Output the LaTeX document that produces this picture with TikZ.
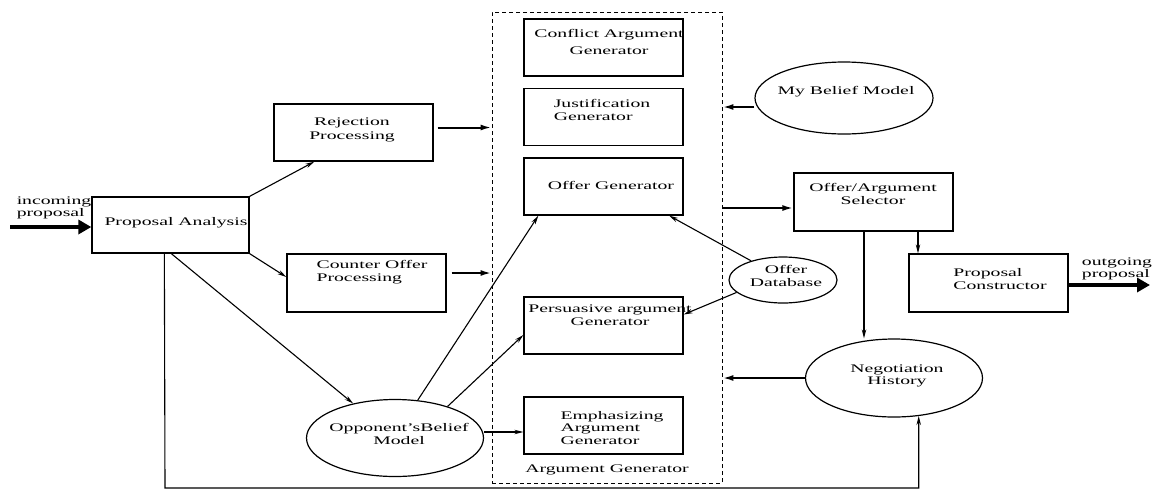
\documentclass[tikz,border=0pt]{standalone}
\usepackage{fontspec}
\setmainfont{Liberation Serif}[FakeStretch=1.7]
\usetikzlibrary{arrows.meta,shapes.geometric}
\tikzset{
    box/.style={
        draw,
        line width=1.3pt,
        minimum width=159pt,
        minimum height=57pt,
        inner sep=0pt
    },
    belief/.style={ellipse, draw, line width=1.2pt, inner sep=0pt},
    txt/.style={inner sep=0pt, font=\fontsize{11.6}{12.5}\selectfont},
    flow/.style={line width=1.1pt, -{Stealth[length=9pt,width=4.5pt]}},
    feed/.style={line width=2pt, -{Latex[length=11pt,width=6pt]}},
    io/.style={line width=4pt, -{Triangle[length=13pt,width=14pt]}}
}
\begin{document}
\begin{tikzpicture}[x={(1pt,0)}, y={(0,-1pt)}]
        \useasboundingbox (0,0) rectangle (1156,491);
        % argument generator frame
        \node[draw, dashed, dash pattern=on 4pt off 3pt, line width=0.9pt,
            minimum width=230pt, minimum height=471pt] (ag) at (607,247.5) {};
        \node[txt] (ag-t) at (607,470) {Argument Generator};
        % generators inside the frame
        \foreach \n/\y in {cag/47.5, jus/117, ofg/186.5, per/325.5, emp/425.5}
            \node[box] (\n) at (603.5,\y) {};
        \node[txt, align=center] (cag-t) at (609,42) {Conflict Argument\\[5pt]Generator};
        \node[txt, align=left] (jus-t) at (602,110) {Justification\\Generator};
        \node[txt] (ofg-t) at (611,185) {Offer Generator};
        \node[txt, align=center] (per-t) at (610,315) {Persuasive argument\\Generator};
        \node[txt, align=left] (emp-t) at (612,428) {Emphasizing\\Argument\\Generator};
        % boxes outside
        \node[box, minimum width=157pt, minimum height=56pt] (pa) at (170.5,225) {};
        \node[txt] (pa-t) at (176,223) {Proposal Analysis};
        \node[box] (rej) at (353.5,132.5) {};
        \node[txt, align=center] (rej-t) at (352,130) {Rejection\\[2pt]Processing};
        \node[box, minimum height=58pt] (cop) at (366.5,283) {};
        \node[txt, align=left] (cop-t) at (372,272) {Counter Offer\\Processing};
        \node[box, minimum height=58pt] (oas) at (873.5,202) {};
        \node[txt, align=center] (oas-t) at (873,194) {Offer/Argument\\Selector};
        \node[box, minimum height=58pt] (pc) at (988.5,283) {};
        \node[txt, align=left] (pc-t) at (1000,279) {Proposal\\Constructor};
        % belief models and stores
        \node[belief, minimum width=178pt, minimum height=72pt] (mbm) at (844,98) {};
        \node[txt] (mbm-t) at (846,92) {My Belief Model};
        \node[belief, minimum width=108pt, minimum height=46pt] (odb) at (783,280) {};
        \node[txt, align=center] (odb-t) at (786,276) {Offer\\Database};
        \node[belief, minimum width=177pt, minimum height=78pt] (nh) at (894,378) {};
        \node[txt, align=center] (nh-t) at (897,376) {Negotiation\\History};
        \node[belief, minimum width=177pt, minimum height=77pt] (obm) at (395,438) {};
        \node[txt, align=center] (obm-t) at (399,434) {Opponent'sBelief\\Model};
        % incoming and outgoing proposal
        \coordinate (inc) at (10,227);
        \coordinate (out) at (1150,285);
        \node[txt, align=left] (in-t) at (54,208) {incoming\\proposal};
        \node[txt, align=left] (out-t) at (1117,269) {outgoing\\proposal};
        \draw[io] (inc) -- (inc -| pa.west);
        \draw[io] (pc.east |- out) -- (out);
        % draw flows out of the proposal analysis
        \draw[flow] (pa.north east) -- ([xshift=41pt]rej.south west);
        \draw[flow] (pa.south east) -- ([yshift=6pt]cop.west);
        \draw[flow] ([xshift=80pt]pa.south west) -- (obm);
        \coordinate (fb) at (165,488);
        \draw[flow] ([xshift=73pt]pa.south west) -- (fb) -| (nh.-57);
        % draw flows into the argument generator
        \draw[feed] ([xshift=4pt,yshift=5pt]rej.east) -- ([yshift=5pt]rej.east -| ag.west);
        \draw[feed] ([xshift=5pt,yshift=10pt]cop.east) -- ([yshift=10pt]cop.east -| ag.west);
        \draw[feed] ([yshift=-9pt]mbm.west) -- ([yshift=-9pt]mbm.west -| ag.east);
        \draw[feed] (nh.west) -- (nh.west -| ag.east);
        \draw[feed] ([yshift=-6pt]ag.east |- oas.west) -- ([yshift=-6pt]oas.west);
        % draw flows from the opponent's model and the offer store
        \draw[flow] (obm.59) -- ([xshift=15pt]ofg.south west);
        \draw[flow] (obm.31) -- ([yshift=-9.5pt]per.west);
        \draw[flow] ([yshift=6pt]obm.east) -- ([yshift=6pt]obm.east -| emp.west);
        \draw[flow] (odb.149) -- ([xshift=-14.5pt]ofg.south east);
        \draw[flow] (odb.195) -- ([yshift=11pt]per.east);
        % draw flows out of the selector
        \draw[flow] ([xshift=44.5pt]oas.south) -- ([xshift=44.5pt]oas.south |- pc.north);
        \draw[flow] ([xshift=-9.5pt]oas.south) -- ([xshift=-9.5pt]oas.south |- nh.north);
\end{tikzpicture}
\end{document}
